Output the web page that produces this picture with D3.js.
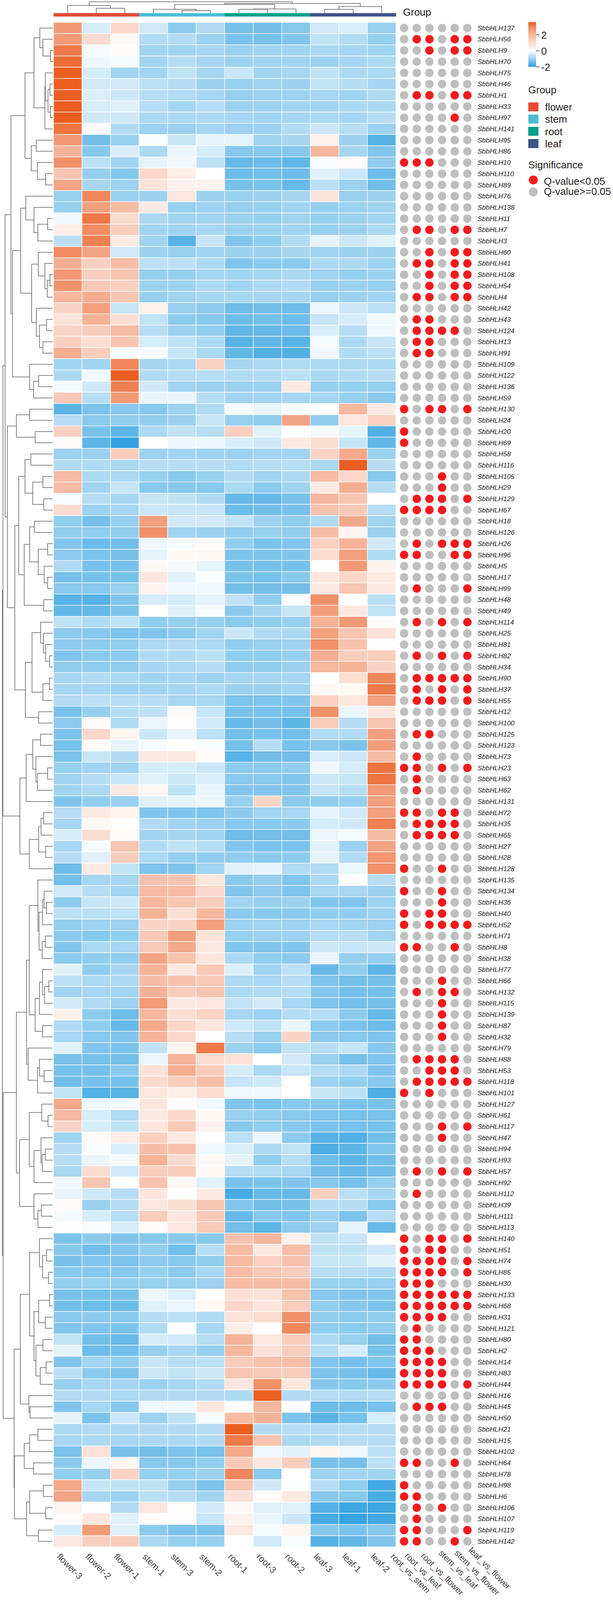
<!DOCTYPE html>
<html>
<head>
<meta charset="utf-8">
<script src="https://cdn.jsdelivr.net/npm/d3@7"></script>
<style>
    html, body { margin: 0; padding: 0; background: #fff; overflow: hidden; }
    svg { display: block; }
    text { font-family: "Liberation Sans", Arial, sans-serif; fill: #222; }
</style>
</head>
<body>
<svg id="chart" width="1570"></svg>
<script>
const samples = ['flower-3', 'flower-2', 'flower-1', 'stem-1', 'stem-3', 'stem-2',
    'root-1', 'root-3', 'root-2', 'leaf-3', 'leaf-1', 'leaf-2'];
const contrasts = ['root_vs_stem', 'root_vs_leaf', 'root_vs_flower', 'stem_vs_leaf', 'stem_vs_flower', 'leaf_vs_flower'];
const groups = ['flower', 'stem', 'root', 'leaf'];
const groupColors = ['#E64B35', '#4DBBD5', '#00A087', '#3C5488'];
const legendTicks = [2, 0, -2];
const significance = ['Q-value<0.05', 'Q-value>=0.05'];

const geneIds = [137, 56, 9, 70, 75, 46, 1, 33, 97, 141, 95, 86, 10, 110, 89, 76, 138, 11, 7, 3, 60, 41, 108, 54, 4, 42, 43, 124, 13, 91, 109, 122, 136, 59,
    130, 24, 20, 69, 58, 116, 105, 29, 129, 67, 18, 126, 26, 96, 5, 17, 99, 48, 49, 114, 25, 81, 82, 34, 90, 37, 55, 12, 100, 125, 123, 73, 23, 63, 62,
    131, 72, 35, 65, 27, 28, 128, 135, 134, 36, 40, 52, 71, 8, 38, 77, 66, 132, 115, 139, 87, 32, 79, 88, 53, 118, 101, 127, 61, 117, 47, 94, 93, 57, 92,
    112, 39, 111, 113, 140, 51, 74, 85, 30, 133, 68, 31, 121, 80, 2, 14, 83, 44, 16, 45, 50, 21, 15, 102, 64, 78, 98, 6, 106, 107, 119, 142];

// z-scores, one row per gene, same order as geneIds and samples
const zScores = [
    [2.6, -0.4, 1.1, -0.45, -1.1, -0.75, -1.3, -1.35, -1.15, -0.45, -0.35, -1.0],
    [2.6, 1.0, 0.2, -0.75, -0.75, -0.95, -1.25, -1.3, -1.2, -0.6, -0.75, -1.0],
    [3.2, -0.1, 0.15, -0.9, -0.9, -0.85, -0.95, -0.9, -0.9, -0.8, -0.85, -0.9],
    [3.4, -0.15, -0.1, -0.9, -0.7, -0.85, -0.95, -0.9, -0.9, -0.95, -0.85, -0.8],
    [3.6, -0.4, -0.9, -0.9, -0.6, -0.85, -0.55, -0.9, -0.85, -0.6, -0.8, -0.8],
    [3.6, -0.45, -0.45, -0.65, -0.7, -0.95, -1.0, -0.9, -0.95, -0.6, -0.7, -0.85],
    [3.6, -0.35, -0.5, -0.7, -0.75, -0.85, -1.0, -0.95, -0.95, -0.85, -0.9, -0.75],
    [3.6, -0.4, -0.3, -0.7, -0.85, -0.7, -0.95, -0.95, -0.9, -0.9, -0.8, -0.8],
    [3.6, -0.45, -0.45, -0.8, -0.8, -0.8, -0.85, -0.9, -0.85, -0.8, -0.85, -0.7],
    [3.3, 0.15, -0.75, -0.95, -0.95, -0.85, -0.95, -0.95, -0.75, -0.5, -0.7, -0.95],
    [2.6, -1.35, -1.0, -0.05, -0.55, -0.25, -0.25, -0.9, -0.85, 0.4, -0.95, -1.6],
    [2.1, -1.15, -0.35, -0.8, -0.2, -0.4, -1.15, -1.15, -1.15, 2.0, -0.85, -1.2],
    [2.8, -0.65, -0.9, -0.25, -0.15, -0.6, -1.45, -1.4, -1.5, -0.05, 0.1, -1.05],
    [1.6, -1.0, -1.15, 1.1, 0.5, 0.0, -1.4, -1.35, -1.4, -0.3, -0.5, -1.4],
    [2.4, -0.85, -0.95, 0.8, 0.35, 0.4, -1.3, -1.25, -1.45, -0.65, -0.95, -1.35],
    [-1.0, 3.0, -1.0, -0.95, 0.7, -0.95, -1.0, -0.95, -0.85, 0.8, -1.0, -0.95],
    [-1.0, 2.5, 1.9, 0.6, -1.0, -0.95, -1.0, -1.0, -0.9, -1.0, -0.95, -0.9],
    [-0.15, 3.2, 1.0, -0.8, -0.9, -0.9, -0.95, -1.0, -0.9, -1.0, -0.95, -0.9],
    [0.5, 2.9, 1.4, -0.9, -0.9, -0.85, -0.95, -0.95, -0.9, -1.0, -0.95, -0.8],
    [-0.65, 3.1, 0.6, -0.9, -1.6, -0.55, -1.2, -1.05, -0.75, -0.25, -0.5, -0.3],
    [2.9, 2.4, -0.45, -0.95, -1.0, -0.9, -0.95, -0.95, -0.85, -0.9, -0.95, -0.95],
    [2.2, 1.3, 1.8, -0.65, -0.65, -0.8, -1.2, -1.1, -1.1, -0.8, -0.8, -0.95],
    [2.6, 1.3, 1.6, -1.0, -1.0, -0.85, -0.9, -0.85, -0.8, -0.9, -1.0, -0.95],
    [2.8, 1.5, 1.3, -0.95, -0.95, -0.8, -0.9, -0.8, -0.75, -1.0, -0.95, -1.0],
    [2.0, 2.2, 1.6, -1.0, -0.9, -0.85, -0.85, -0.85, -0.85, -1.0, -0.95, -0.9],
    [1.2, 2.5, -0.55, 0.4, -1.0, -1.1, -1.4, -1.35, -1.4, -0.2, -0.5, -0.65],
    [0.8, 2.1, 0.9, -0.6, -1.1, -1.15, -1.4, -1.35, -1.4, -0.55, -0.4, -0.15],
    [1.2, 1.4, 1.9, -0.7, -0.95, -1.05, -1.5, -1.45, -1.4, -0.35, -0.7, -0.15],
    [1.3, 0.9, 1.6, -0.4, -0.6, -0.8, -1.6, -1.5, -1.6, -0.1, -0.8, -0.55],
    [2.2, 1.4, -0.1, -0.1, -0.55, -0.8, -1.5, -1.65, -1.65, -0.15, -0.75, -0.65],
    [-0.9, -0.9, 3.0, -0.85, -0.8, 1.3, -0.85, -0.8, -0.75, -0.8, -0.8, -0.8],
    [-0.8, -0.15, 3.6, -0.75, -0.7, -0.7, -0.75, -0.75, -0.65, -0.8, -0.75, -0.7],
    [-0.1, -0.45, 3.1, -0.45, -0.9, -0.95, -0.95, -0.95, 0.6, -1.0, -1.0, -1.0],
    [1.5, -0.7, 2.6, -0.2, -0.2, -0.7, -0.9, -0.9, -0.85, -0.85, -1.0, -1.1],
    [-1.55, -1.25, -1.15, -1.15, -0.95, -0.75, -0.1, -0.2, -0.05, -0.02, 2.0, 0.6],
    [-0.7, -1.1, -1.05, -1.05, -0.95, -0.55, -1.0, -1.05, 2.4, -1.05, 0.7, 1.3],
    [1.3, -1.3, -1.55, -0.8, -0.6, -0.7, 1.3, -0.3, 0.05, -0.1, -0.25, -1.65],
    [0.1, -1.55, -1.95, 0.03, -0.15, -0.15, -0.35, -0.45, 0.6, 0.9, -0.55, -1.5],
    [-0.95, -0.95, 1.4, -0.95, -0.9, -0.95, -0.95, -0.9, -0.9, 1.2, 2.3, -0.95],
    [-0.75, -0.75, -0.8, -0.7, -0.7, -0.7, -0.75, -0.7, -0.7, -0.8, 3.6, -0.7],
    [1.9, -0.8, -0.8, -1.0, -1.15, -1.0, -0.75, -0.9, -0.8, 1.9, 1.1, -1.15],
    [1.9, -0.9, -0.55, -1.15, -1.15, -1.15, -0.8, -1.1, -0.9, 0.6, 2.2, -0.7],
    [-0.08, -0.7, -0.85, -0.55, -0.6, -0.75, -1.45, -1.45, -1.3, 2.0, 1.6, 0.02],
    [1.0, -0.95, -0.85, -0.5, -0.55, -0.55, -1.4, -1.35, -1.3, 1.7, 1.5, -0.7],
    [-1.05, -1.3, -1.0, 2.5, -0.45, -0.45, -0.6, -0.95, -1.05, -0.75, 2.3, -0.9],
    [-1.05, -1.05, -1.05, 2.8, -0.9, -0.95, -1.05, -1.0, -1.05, 1.8, 0.3, -0.95],
    [-1.2, -1.4, -1.35, -0.15, -0.1, 0.15, -1.05, -1.25, -1.2, 1.3, 2.1, -0.45],
    [-1.1, -1.25, -1.3, -0.25, 0.2, 0.2, -1.25, -1.25, -1.2, 1.0, 2.5, -0.75],
    [-0.75, -1.3, -1.3, 0.2, -0.1, -0.25, -1.3, -1.3, -1.3, 0.05, 2.6, 0.35],
    [-1.3, -1.3, -1.3, 0.7, -0.3, -0.05, -1.25, -1.3, -1.15, 0.7, 1.1, 0.6],
    [-1.15, -1.15, -1.0, 0.3, -0.15, -0.15, -1.35, -1.35, -1.35, 0.6, 1.6, 0.6],
    [-1.6, -1.6, -1.2, -0.4, -0.4, -0.25, -0.6, -1.05, -0.08, 2.8, 0.03, -0.65],
    [-1.5, -1.45, -1.25, 0.0, -0.3, -0.08, -1.1, -0.85, -0.55, 2.5, 0.6, -0.6],
    [-0.6, -0.75, -0.6, -1.05, -1.0, -1.0, -1.1, -1.05, -1.0, 2.1, 2.6, 0.08],
    [-1.1, -1.15, -1.25, -1.2, -1.1, -0.9, -0.5, -0.75, -0.8, 2.5, 1.6, 0.8],
    [-1.1, -1.1, -1.05, -0.8, -0.75, -0.8, -1.05, -1.0, -0.95, 2.8, 1.7, 0.05],
    [-1.2, -1.1, -1.1, -0.75, -0.75, -0.65, -1.05, -1.05, -1.0, 2.2, 1.4, 1.4],
    [-1.05, -1.05, -1.05, -0.85, -0.8, -0.7, -1.05, -1.05, -0.95, 2.0, 2.1, 1.2],
    [-0.85, -0.75, -0.8, -0.9, -0.85, -0.95, -0.85, -0.85, -0.85, 0.0, 0.9, 3.0],
    [-0.85, -0.85, -0.95, -0.9, -0.85, -0.8, -0.95, -0.95, -0.9, 0.2, 0.2, 3.2],
    [-0.75, -0.65, -0.7, -0.7, -0.85, -0.85, -1.25, -1.25, -1.2, 1.3, 0.7, 2.5],
    [-1.3, -1.0, -0.7, -0.6, 0.1, -0.55, -1.3, -1.25, -1.3, 2.8, -0.2, 0.7],
    [-1.1, 0.15, -0.75, -0.2, 0.03, -0.45, -1.45, -1.35, -1.55, 1.4, -0.7, 1.6],
    [-1.25, 1.1, 0.3, -0.5, -0.2, -0.65, -1.35, -1.3, -1.35, -0.75, -0.75, 2.5],
    [-1.3, 0.1, -0.25, -0.1, 0.03, -0.05, -1.3, -0.7, -1.3, -1.15, -1.25, 2.5],
    [-1.3, -0.55, -0.75, 0.6, 0.6, 0.15, -1.6, -1.35, -1.35, -0.35, -0.5, 1.9],
    [-1.0, -0.9, -0.9, -0.4, -0.4, -0.5, -1.1, -1.1, -1.05, -0.15, -0.4, 3.3],
    [-0.9, -0.7, -0.55, -0.3, -0.5, -0.35, -1.15, -1.15, -1.2, -0.5, -0.55, 3.3],
    [-0.9, -0.8, 0.6, 0.25, -0.6, -0.2, -1.2, -1.2, -1.2, -0.55, -0.7, 2.6],
    [-1.2, -1.05, -0.95, -0.3, -0.25, -0.2, -1.0, 1.2, -1.1, -1.05, -1.0, 2.5],
    [-0.7, 0.6, 0.3, -1.2, -1.2, -1.25, -1.1, -0.9, -0.85, -0.25, -0.45, 2.5],
    [-0.85, 0.25, 0.0, -0.75, -0.9, -0.95, -1.15, -1.15, -1.1, -0.4, -0.45, 3.1],
    [-0.4, 0.95, 0.15, -0.9, -0.85, -0.9, -1.4, -1.35, -1.35, -0.2, -0.1, 1.9],
    [-0.85, -0.08, 1.6, -0.75, -0.6, -0.7, -1.2, -1.25, -1.25, -0.3, -0.95, 2.4],
    [-0.7, -0.3, 1.4, -0.8, -1.0, -1.05, -1.05, -1.1, -1.1, -0.25, -0.75, 2.7],
    [-1.4, 0.6, -0.6, -1.25, -1.2, -0.9, -0.3, -0.25, -0.75, -0.75, -0.2, 2.8],
    [-1.35, -0.85, -0.85, 1.7, 1.6, 0.7, -1.1, -1.0, -1.2, -0.8, 0.02, -0.7],
    [-0.45, -0.7, -0.9, 1.9, 1.9, 1.1, -1.2, -1.1, -1.25, -0.85, -0.85, -0.95],
    [-1.05, -0.55, -0.5, 2.0, 1.6, 1.4, -0.9, -1.0, -0.95, -1.2, -1.2, -0.95],
    [-0.65, -0.65, -0.6, 2.1, 0.9, 2.0, -1.1, -1.15, -1.1, -1.05, -1.05, -0.95],
    [-1.05, -0.95, -0.95, 1.2, 1.2, 2.5, -0.95, -0.9, -0.95, -0.85, -0.9, -0.95],
    [-1.1, -1.15, -1.05, 1.5, 2.5, 0.8, -1.0, -0.95, -0.95, -0.7, -0.7, -0.9],
    [-1.2, -0.8, -0.85, 1.5, 2.3, 0.7, -1.2, -1.2, -1.2, -0.5, -0.55, -0.5],
    [-1.1, -1.05, -1.05, 2.4, 1.7, 0.7, -0.8, -1.05, -1.1, -0.2, -1.0, -1.0],
    [-0.3, -1.05, -0.85, 2.1, 0.6, 1.5, -0.35, -0.9, -0.65, -1.45, -1.05, -1.55],
    [-0.65, -0.8, -0.8, 1.8, 1.7, 1.5, -0.8, -0.85, -0.7, -1.25, -1.35, -1.35],
    [-0.9, -0.85, -0.9, 2.1, 1.4, 1.6, -0.8, -0.75, -0.7, -1.15, -1.3, -1.3],
    [-0.45, -0.75, -0.95, 2.6, 0.6, 0.7, -0.6, -0.45, -0.85, -1.25, -1.35, -1.35],
    [0.4, -1.1, -1.4, 2.0, 0.9, 1.2, -0.85, -0.95, -0.7, -0.7, -1.1, -1.45],
    [-0.75, -1.05, -1.45, 2.3, 1.1, 0.7, -0.45, -0.6, -0.2, -1.1, -1.25, -1.4],
    [-0.85, -1.15, -1.2, 2.1, 1.1, 0.05, -0.7, -1.0, 1.2, -1.1, -1.15, -1.25],
    [-0.3, -1.2, -1.25, -0.6, 0.3, 3.2, -0.95, -1.1, -0.6, -0.7, -0.55, -1.15],
    [-1.3, -1.3, -1.35, -0.2, 2.1, 1.0, 0.8, 0.0, -0.45, -1.0, -1.3, -1.25],
    [-1.3, -1.3, -1.15, 0.8, 2.2, 1.4, -0.4, -0.8, -0.55, -0.7, -0.8, -1.2],
    [-1.35, -1.3, -1.3, 1.0, 1.4, 1.8, -0.55, -0.45, 0.0, -0.95, -1.05, -1.15],
    [-0.6, -1.65, -1.6, 0.7, 0.5, 1.0, -0.15, -0.15, 0.0, -0.55, -0.65, -1.7],
    [2.3, -0.15, -0.12, 0.7, 0.03, -0.15, -1.2, -1.25, -1.15, -1.15, -1.25, -1.25],
    [2.0, -0.4, -0.75, 0.6, 1.1, 0.2, -1.0, -1.05, -1.15, -1.25, -1.3, -1.3],
    [1.2, -0.4, -0.6, 0.7, 1.5, 0.35, -1.15, -1.05, -1.15, -1.25, -1.3, -1.3],
    [-0.9, 0.15, 0.5, 1.3, 0.6, 0.03, -0.65, -0.2, -1.1, -1.6, -1.65, -1.35],
    [-0.7, -0.08, -0.35, 1.8, 1.7, -0.15, -0.35, -0.8, -0.6, -1.7, -1.55, -1.2],
    [-0.7, -0.2, -0.1, 2.1, 1.0, 0.2, -0.25, -1.05, -0.7, -1.4, -1.55, -1.35],
    [-0.85, 1.0, -0.45, 1.4, 1.4, 0.2, -0.7, -0.75, -0.85, -1.35, -1.45, -1.35],
    [-0.15, 1.6, 0.03, 1.7, 0.2, -0.3, -1.3, -1.25, -1.2, -1.15, -1.3, -1.0],
    [-0.2, -0.45, -0.7, 0.7, 0.03, 0.6, -1.75, -1.45, -1.45, 1.3, -0.65, -0.85],
    [0.1, -0.95, -0.7, 0.7, 0.9, 1.6, -1.2, -1.35, -1.3, -0.7, -0.7, -1.15],
    [-0.1, -0.4, -0.7, 1.4, 0.7, 1.5, -1.45, -1.15, -1.2, -0.95, -1.25, -0.7],
    [0.02, -0.05, -0.4, 0.1, 0.7, 1.5, -1.35, -1.55, -1.1, -0.95, -0.25, -1.45],
    [-1.25, -1.1, -1.2, -1.15, -1.1, -1.15, 1.7, 2.0, 0.4, -0.6, -0.55, 0.03],
    [-1.15, -1.35, -1.2, -1.05, -1.35, -0.7, 1.9, 0.6, 1.8, -0.6, -0.6, -0.45],
    [-1.3, -1.2, -1.25, -1.1, -1.15, -1.05, 1.9, 1.3, 1.7, -0.55, -0.55, -0.3],
    [-1.15, -1.15, -1.15, -1.0, -1.1, -0.85, 1.8, 1.5, 1.4, -0.7, -0.7, -0.75],
    [-1.05, -1.0, -1.05, -1.0, -1.0, -0.95, 1.9, 1.9, 1.9, -1.0, -1.0, -1.0],
    [-1.3, -1.3, -1.3, -0.2, -0.35, 0.03, 0.9, 0.8, 1.7, -1.15, -1.2, -1.2],
    [-1.35, -1.4, -1.4, -0.3, -0.2, 0.25, 1.1, 0.7, 1.4, -1.05, -1.15, -1.25],
    [-1.15, -1.1, -1.15, -0.7, -0.65, -0.75, 0.8, 1.0, 2.8, -1.05, -1.1, -1.05],
    [-1.2, -1.2, -1.25, -0.75, 0.0, -0.85, 0.5, 0.03, 3.0, -1.05, -1.1, -1.05],
    [-0.6, -1.35, -1.45, -0.4, -0.45, -0.7, 2.1, 0.7, 1.4, -0.8, -1.0, -1.35],
    [-0.25, -1.4, -1.35, -1.0, -0.85, -1.0, 2.0, 0.8, 1.4, -0.7, -0.4, -1.3],
    [-1.2, -0.9, -1.05, -0.55, -0.7, -0.65, 1.4, 1.7, 1.8, -1.2, -1.3, -1.2],
    [-0.65, -1.1, -1.25, -0.5, -0.6, -0.5, 1.6, 1.5, 1.4, -1.25, -1.3, -1.45],
    [-1.0, -0.85, -0.85, -0.95, -0.85, -0.75, 0.7, 2.8, 0.7, -1.15, -1.15, -1.1],
    [-0.75, -0.75, -0.8, -0.75, -0.75, -0.75, -0.8, 3.6, -0.75, -0.7, -0.75, -0.7],
    [-1.2, -0.85, -1.15, -0.15, -0.15, 0.7, 0.02, 2.0, 0.0, -1.4, -1.4, -1.3],
    [-0.25, -1.25, -0.5, -0.95, -0.6, -0.1, 1.9, 2.1, -1.25, -1.55, -1.3, -0.4],
    [-0.8, -0.75, -0.8, -0.75, -0.75, -0.7, 3.6, -0.75, -0.7, -0.75, -0.7, -0.7],
    [-0.85, -0.8, -0.85, -0.8, -0.8, -0.75, 3.2, 1.6, -0.8, -0.75, -0.7, -0.7],
    [-1.3, 0.8, -1.3, -1.35, -1.25, -1.3, 2.3, -0.15, -0.3, 0.25, -0.15, -0.65],
    [-1.1, -0.2, 0.25, -1.15, -1.15, -1.05, 1.5, 0.7, 1.4, -1.3, -1.3, -0.65],
    [-1.05, -1.0, 1.2, -1.0, -1.0, -0.95, 3.0, -1.1, 0.01, -0.95, -0.9, -0.9],
    [2.3, -0.55, -0.6, -0.6, -1.0, -1.25, 1.6, -0.45, -0.04, -0.7, -1.05, -1.8],
    [2.4, -0.85, -0.95, -0.65, -0.7, -0.9, 0.8, 0.15, 0.6, -1.15, -1.15, -1.75],
    [0.3, 0.03, -0.75, 0.7, 0.07, -0.45, 0.2, -0.3, -0.3, -1.65, -1.85, -1.85],
    [0.1, 0.7, -0.3, 0.1, 0.02, -0.55, 0.4, -0.2, -0.5, -1.75, -1.9, -1.8],
    [-0.4, 2.6, -0.3, -1.1, -1.25, -1.25, 0.6, -0.1, 0.3, -1.15, -1.25, -1.15],
    [0.6, 1.3, 1.4, -0.8, -1.0, -1.0, 0.01, -0.45, -0.07, -1.6, -1.5, -1.2]
];

// one flag per contrast for every gene, 1 means Q-value<0.05
const sigFlags = ['000000', '011011', '001011', '000000', '000000', '000000', '011011', '000000', '000010', '000000', '000000', '000000', '111000', '000000', '000000', '000000', '000000',
    '000000', '011011', '000000', '001011', '011011', '001011', '001011', '011011', '000000', '011000', '011110', '011000', '011000', '000000', '000000', '000000', '000000',
    '101101', '000000', '100000', '100000', '000000', '000000', '000100', '000100', '011101', '111100', '000000', '000000', '010111', '110011', '000000', '000000', '010001', '000000',
    '000000', '010101', '000000', '000000', '010101', '000000', '011111', '010101', '011101', '000000', '000000', '011000', '000000', '010000', '110101', '010000', '010000',
    '000000', '110110', '011110', '011110', '000000', '000000', '100100', '000000', '100100', '000100', '101100', '101111', '000000', '110010', '000000', '000000', '000100', '010110',
    '000100', '000100', '000100', '000100', '000000', '011110', '001110', '011111', '101000', '000000', '000000', '000101', '000100', '000000', '000000', '010101', '000000',
    '010000', '000000', '000000', '000000', '101101', '101100', '111101', '111101', '111000', '111111', '111111', '111100', '010000', '110000', '111000', '111100', '111100', '111101',
    '000000', '011100', '000000', '000000', '000000', '000000', '110010', '000000', '100000', '110000', '010100', '010000', '110001', '110010'];

// dendrograms as [merge distance, child, child], a plain number is a leaf index
const sampleTree = [33, [22, 0, [14, 1, 2]], [28, [25, [11, 3, [7, 4, 5]], [12, [11, 6, 7], 8]], [19, [11, 9, 10], 11]]];

const treeFlowerLeaf = [71,
    [48, [33, 0, [25, 1, [6, 2, 3]]], [20, [19, 4, [12, [7, 5, 6], [6, 7, 8]]], 9]],
    [55, [42, 10, 11], [39, 12, [18, 13, 14]]]];
const treeFlowerMix = [103,
    [82, [69, 15, [48, 16, [38, [13, 17, 18], 19]]],
        [54, [37, 20, [20, 21, [14, [7, 22, 23], 24]]], [42, 25, [34, [16, 26, 27], [25, 28, 29]]]]],
    [59, 30, [49, [36, 31, 32], 33]]];
const treeLeafA = [87,
    [71, [56, 38, 39], [51, [25, 40, 41], [23, 42, 43]]],
    [73, [59, [47, 44, 45], [37, [13, 46, 47], [22, 48, [13, 49, 50]]]], [23, 51, 52]]];
const treeLeafB = [70,
    [53, [31, 53, [24, 54, [18, 55, [8, 56, 57]]]], [25, [8, 58, 59], 60]],
    [36, 61, 62]];
const treeLeafC = [84,
    [68, [51, [31, 63, 64], [43, 65, [39, [13, 66, 67], 68]]], 69],
    [60, [36, [30, [23, 70, 71], 72], [18, 73, 74]], 75]];
const treeStemA = [67,
    [60,
        [38, 76, [35, [26, [22, 77, [16, 78, 79]], 80], [27, [19, 81, 82], 83]]],
        [45, [34, [26, 84, [21, [10, 85, 86], 87]], 88], [26, 89, 90]]],
    [63, 91, [39, [34, 92, [22, 93, 94]], 95]]];
const treeStemB = [85,
    [60, [28, 96, [12, 97, 98]], [48, [30, 99, [27, [19, 100, 101], 102]], 103]],
    [48, 104, [38, [29, 105, 106], 107]]];
const treeRoot = [83,
    [59,
        [34, 108, [26, [16, 109, 110], [11, 111, 112]]],
        [48, [36, [8, 113, 114], [19, 115, 116]], [43, [25, 117, 118], [32, [17, 119, 120], 121]]]],
    [61, 122, [58, 123, 124]]];
const treeTail = [98,
    [73, [59, [38, 125, 126], 127], [49, 128, 129]],
    [67, [59, [24, 130, 131], [18, 132, 133]], [37, 134, 135]]];
const geneTree = [129,
    [127.5,
        [122, [107, treeFlowerLeaf, treeFlowerMix], [116, [93, [59, 34, 35], [45, 36, 37]], [97, treeLeafA, treeLeafB]]],
        treeLeafC],
    [127, [93, treeStemA, treeStemB], [99, treeRoot, treeTail]]];

// the figure is 4642 tall, but the window may be shorter, so squeeze the vertical layout to fit
const pageHeight = Math.min(window.innerHeight || 4642, 4642);
const py = d3.scaleLinear().domain([0, 4642]).range([0, pageHeight]);
const shrink = pageHeight / 4642;

const svg = d3.select('#chart').attr('height', pageHeight);

const x = d3.scaleBand().domain(samples).range([137, 1014]);
const y = d3.scaleBand().domain(geneIds).range([py(65), py(4488)]);
const dotX = d3.scalePoint().domain(contrasts).range([1035, 1197]);
const color = d3.scaleLinear()
    .domain([-2, 0, 2, 3, 3.6])
    .range(['#2E9FDF', '#ffffff', '#F5B79E', '#F0875C', '#EA5E22'])
    .clamp(true);
const groupColor = d3.scaleOrdinal().domain(groups).range(groupColors);

const rowDist = d3.scaleLinear().domain([0, 130]).range([135, 5]);
const colDist = d3.scaleLinear().domain([0, 33]).range([py(38), py(5)]);

// walk a [distance, a, b] tree, returns the elbow lines and the node position
function elbows(node, leafPos, lines) {
    if (!Array.isArray(node)) return { pos: leafPos(node), dist: 0 };
    const a = elbows(node[1], leafPos, lines);
    const b = elbows(node[2], leafPos, lines);
    const pos = (a.pos + b.pos) / 2;
    lines.push({ a, b, dist: node[0] });
    return { pos, dist: node[0] };
}

const rowLines = [];
elbows(geneTree, i => y(geneIds[i]) + y.bandwidth() / 2, rowLines);
svg.append('g').selectAll('path')
    .data(rowLines)
    .enter().append('path')
    .attr('fill', 'none')
    .attr('stroke', '#5f5f5f')
    .attr('stroke-width', 1.5)
    .attr('d', d => `M${rowDist(d.a.dist)},${d.a.pos}H${rowDist(d.dist)}V${d.b.pos}H${rowDist(d.b.dist)}`);

const colLines = [];
elbows(sampleTree, i => x(samples[i]) + x.bandwidth() / 2, colLines);
svg.append('g').selectAll('path')
    .data(colLines)
    .enter().append('path')
    .attr('fill', 'none')
    .attr('stroke', '#5f5f5f')
    .attr('stroke-width', 1.5)
    .attr('d', d => `M${d.a.pos},${colDist(d.a.dist)}V${colDist(d.dist)}H${d.b.pos}V${colDist(d.b.dist)}`);

// group annotation bar
svg.append('g').selectAll('rect')
    .data(samples)
    .enter().append('rect')
    .attr('x', d => x(d))
    .attr('y', py(38))
    .attr('width', x.bandwidth() + 0.5)
    .attr('height', py(10))
    .attr('fill', d => groupColor(d.split('-')[0]));

svg.append('text')
    .attr('x', 1032)
    .attr('y', py(45))
    .attr('font-size', 26)
    .text('Group');

// heatmap cells
const rows = svg.append('g').selectAll('g')
    .data(geneIds)
    .enter().append('g');

rows.selectAll('rect')
    .data((gene, i) => zScores[i].map((v, j) => ({ gene, v, sample: samples[j] })))
    .enter().append('rect')
    .attr('x', d => x(d.sample))
    .attr('y', d => y(d.gene))
    .attr('width', x.bandwidth())
    .attr('height', y.bandwidth())
    .attr('fill', d => color(d.v))
    .attr('stroke', '#ffffff')
    .attr('stroke-opacity', 0.85)
    .attr('stroke-width', 1.5);

// significance dots
rows.selectAll('circle')
    .data((gene, i) => contrasts.map((c, j) => ({ gene, c, hit: sigFlags[i][j] === '1' })))
    .enter().append('circle')
    .attr('cx', d => dotX(d.c))
    .attr('cy', d => y(d.gene) + y.bandwidth() / 2)
    .attr('r', 10.8)
    .attr('fill', d => d.hit ? '#F31A1C' : '#BEBEBE');

rows.append('text')
    .attr('x', 1223)
    .attr('y', d => y(d) + y.bandwidth() / 2)
    .attr('dy', '0.35em')
    .attr('font-size', 17.4)
    .attr('font-style', 'italic')
    .text(d => 'SbbHLH' + d);

// bottom labels
svg.append('g').selectAll('text')
    .data(samples)
    .enter().append('text')
    .attr('transform', d => `translate(${x(d) + x.bandwidth() / 2 - 18},${py(4505)}) rotate(45)`)
    .attr('dy', '0.7em')
    .attr('font-size', 26 * shrink)
    .style('fill', '#444')
    .text(d => d);

// these six were placed by hand in the original figure
const contrastNudgeX = [-25, -21, -12, 1, 9, 13];
const contrastNudgeY = [4505, 4503, 4503, 4495, 4495, 4487];
svg.append('g').selectAll('text')
    .data(contrasts)
    .enter().append('text')
    .attr('transform', (d, i) => `translate(${dotX(d) + contrastNudgeX[i]},${py(contrastNudgeY[i])}) rotate(45)`)
    .attr('dy', '0.7em')
    .attr('font-size', 25 * shrink)
    .style('fill', '#444')
    .text(d => d);

// colour legend
const defs = svg.append('defs');
const grad = defs.append('linearGradient')
    .attr('id', 'bar')
    .attr('x1', 0).attr('x2', 0).attr('y1', 1).attr('y2', 0);
d3.range(-2, 3.61, 0.4).forEach(v => {
    grad.append('stop')
        .attr('offset', (v + 2) / 5.6)
        .attr('stop-color', color(v));
});

const legendY = d3.scaleLinear().domain([-2, 3.6]).range([py(194), py(64)]);
svg.append('rect')
    .attr('x', 1353)
    .attr('y', legendY(3.6))
    .attr('width', 20)
    .attr('height', legendY(-2) - legendY(3.6))
    .attr('fill', 'url(#bar)');

const legendAxis = svg.append('g').selectAll('g')
    .data(legendTicks)
    .enter().append('g');
legendAxis.append('line')
    .attr('x1', 1373).attr('x2', 1382)
    .attr('y1', d => legendY(d)).attr('y2', d => legendY(d))
    .attr('stroke', '#333')
    .attr('stroke-width', 1.5);
legendAxis.append('text')
    .attr('x', 1386)
    .attr('y', d => legendY(d))
    .attr('dy', '0.36em')
    .attr('font-size', 26)
    .text(d => d);

svg.append('text')
    .attr('x', 1353)
    .attr('y', py(271))
    .attr('font-size', 26)
    .text('Group');

const groupY = d3.scaleBand().domain(groups).range([py(297), py(439)]);
const groupRows = svg.append('g').selectAll('g')
    .data(groups)
    .enter().append('g');
groupRows.append('rect')
    .attr('x', 1353)
    .attr('y', d => groupY(d))
    .attr('width', 26)
    .attr('height', py(26))
    .attr('fill', d => groupColor(d));
groupRows.append('text')
    .attr('x', 1396)
    .attr('y', d => groupY(d) + py(13))
    .attr('dy', '0.36em')
    .attr('font-size', 26)
    .text(d => d);

svg.append('text')
    .attr('x', 1353)
    .attr('y', py(489))
    .attr('font-size', 26)
    .text('Significance');

const sigY = d3.scalePoint().domain(significance).range([py(522), py(557)]);
const sigTextY = d3.scalePoint().domain(significance).range([py(526), py(555)]);
const sigRows = svg.append('g').selectAll('g')
    .data(significance)
    .enter().append('g');
sigRows.append('circle')
    .attr('cx', 1366)
    .attr('cy', d => sigY(d))
    .attr('r', 13 * shrink)
    .attr('fill', (d, i) => i === 0 ? '#F31A1C' : '#BEBEBE');
sigRows.append('text')
    .attr('x', 1393)
    .attr('y', d => sigTextY(d))
    .attr('dy', '0.36em')
    .attr('font-size', 26)
    .text(d => d);
</script>
</body>
</html>
